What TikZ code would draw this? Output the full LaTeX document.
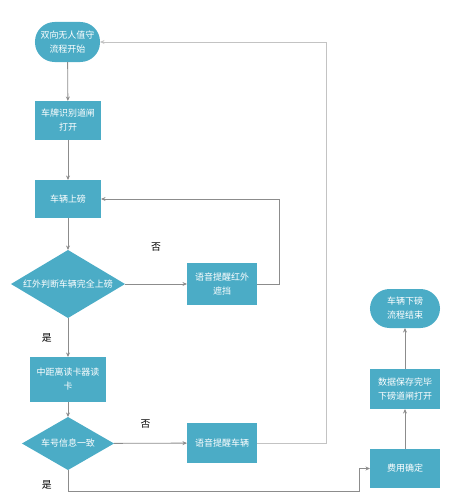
\documentclass[tikz,border=0pt]{standalone}
\usepackage{fontspec}
\newfontfamily\cjk{Noto Sans CJK SC}
\usetikzlibrary{shapes.geometric,arrows.meta,positioning}
\definecolor{boxblue}{RGB}{75,172,198}
\definecolor{linegray}{RGB}{140,140,140}
\definecolor{looplight}{RGB}{195,195,195}
\newcommand{\boxcolor}{boxblue}
\newcommand{\txt}{\cjk\fontsize{6.4}{10}\selectfont}
\newcommand{\anstxt}{\cjk\fontsize{7}{8}\selectfont}

\tikzset{
  stepbox/.style={rectangle, fill=\boxcolor, text=white, align=center, font=\txt,
    minimum width=1.75cm, minimum height=1cm, inner sep=1pt, outer sep=0pt},
  terminal/.style={stepbox, rounded corners=0.49cm},
  decision/.style={diamond, fill=\boxcolor, inner sep=0pt, outer sep=0pt},
  flow/.style={draw=linegray, line width=0.6pt, -{Stealth[length=3.2pt,width=2.8pt]}},
  answer/.style={font=\anstxt, text=black},
}

\begin{document}
\begin{tikzpicture}[x=0.025cm, y=-0.025cm]
\useasboundingbox (0,0) rectangle (450,495);
\node[terminal, minimum width=1.625cm] (1) at (67.5,42) {双向无人值守\\流程开始};
\node[stepbox, minimum width=1.65cm, minimum height=0.975cm] (2) at (68,120.5) {车牌识别道闸\\打开};
\node[stepbox, minimum width=1.65cm, minimum height=0.95cm] (3) at (68,199) {车辆上磅};
\node[decision, minimum width=2.85cm, minimum height=1.7cm,
  label={[font=\txt, text=white]center:红外判断车辆完全上磅}] (4) at (68,284) {};
\node[stepbox, minimum height=1.05cm] (5) at (222,284) {语音提醒红外\\遮挡};
\node[stepbox, minimum width=1.9cm, minimum height=1.125cm] (6) at (68,379.5) {中距离读卡器读\\卡};
\node[decision, minimum width=2.3cm, minimum height=1.325cm,
  label={[font=\txt, text=white]center:车号信息一致}] (7) at (68,443.5) {};
\node[stepbox] (8) at (222,443) {语音提醒车辆};
\node[stepbox, minimum height=0.975cm] (9) at (405,468.5) {费用确定};
\node[stepbox] (10) at (405,389) {数据保存完毕\\下磅道闸打开};
\node[terminal, minimum height=0.975cm] (11) at (405,308.5) {车辆下磅\\流程结束};
\coordinate (c) at (359,491);

% main line
\draw[flow] (1) -- (2);
\draw[flow] (2) -- (3);
\draw[flow] (3) -- (4);
\draw[flow] (4) -- node[answer, left=8pt] {是} (6);
\draw[flow] (6) -- (7);
% no branches
\draw[flow] (4) -- node[answer, above=0.7cm] {否} (5);
\draw[flow] (5.east) -- ++(22,0) |- (3);
\draw[flow] (7) -- node[answer, above=0.25cm, xshift=-0.12cm] {否} (8);
\draw[flow, draw=looplight] (8.east) -- ++(69,0) |- (1);
% yes branch
\draw[flow] (7) |- node[answer, pos=0.5, left=8pt, yshift=0.15cm] {是} (c) |- (9);
\draw[flow] (9) -- (10);
\draw[flow] (10) -- (11);
\end{tikzpicture}
\end{document}
